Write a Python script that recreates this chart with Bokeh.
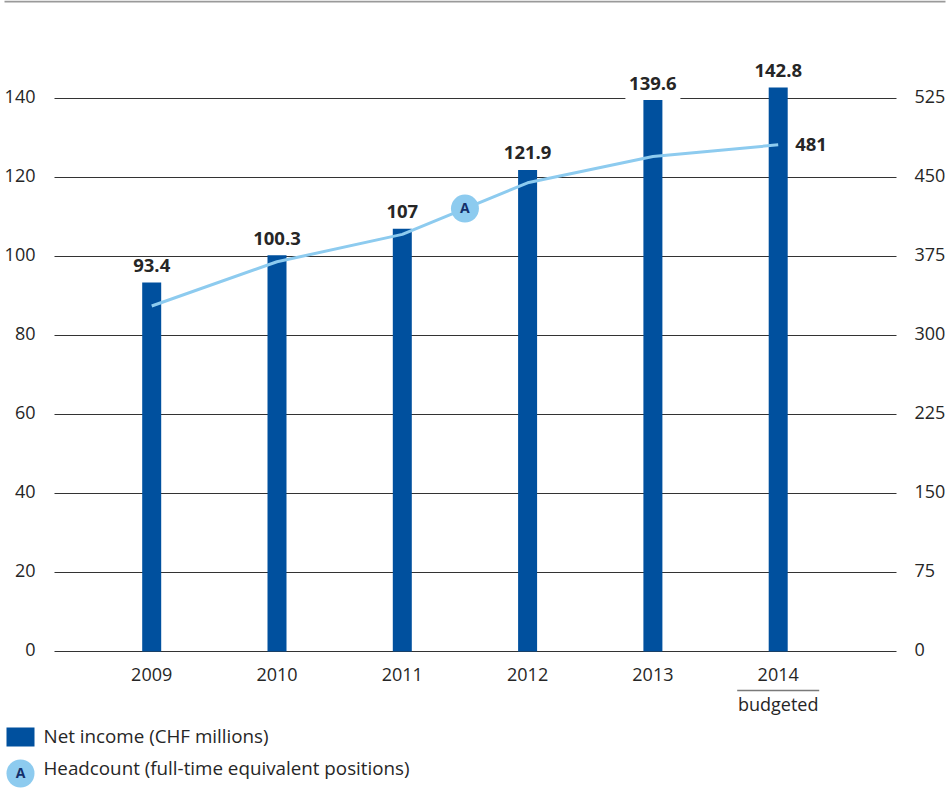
from bokeh.plotting import figure
from bokeh.models import Range1d
from bokeh.core.properties import value
from bokeh.embed import file_html
from bokeh.resources import INLINE

# ---- data ----
years = ["2009", "2010", "2011", "2012", "2013", "2014"]
net_income = [93.4, 100.3, 107, 121.9, 139.6, 142.8]
headcount = [328, 370, 396, 445, 470, 481]
left_ticks = [0, 20, 40, 60, 80, 100, 120, 140]
right_ticks = [0, 75, 150, 225, 300, 375, 450, 525]
series_names = ["Net income (CHF millions)", "Headcount (full-time equivalent positions)"]
budget_note = "budgeted"
marker_letter = "A"

# ---- style / layout constants ----
FONT = value("Open Sans")
W, H = 949, 788
BAR = "#00509e"
LINE = "#8dcbef"
TXT = "#262626"
NAVY = "#13306b"
GRID = "#333333"
RULE = "#9a9a9a"

CX0, CSTEP = 151.2, 125.3     # pixel of first category centre, pixels per category
Y0PX, PPU = 651.0, 3.95       # pixel row of value 0, pixels per left-axis unit
RATIO = right_ticks[-1] / left_ticks[-1]
FRAME_L, FRAME_R = 54, 896

def dx(px):
    return (px - CX0) / CSTEP

def dy(py):
    return (Y0PX - py) / PPU

idx = list(range(len(years)))

p = figure(width=W, height=H, x_range=Range1d(dx(0), dx(W)), y_range=Range1d(dy(H), dy(0)),
           toolbar_location=None, output_backend="svg", min_border=0,
           x_axis_location=None, y_axis_location=None, outline_line_color=None,
           background_fill_color="white", border_fill_color="white")
p.grid.visible = False
p.extra_y_ranges = {"hc": Range1d(dy(H) * RATIO, dy(0) * RATIO)}

# top rule
p.segment(x0=[dx(4)], y0=[dy(1)], x1=[dx(945)], y1=[dy(1)], line_color=RULE, line_width=2)

# horizontal grid lines at the left-axis ticks
n = len(left_ticks)
p.segment(x0=[dx(FRAME_L)] * n, y0=left_ticks, x1=[dx(FRAME_R)] * n, y1=left_ticks,
          line_color=GRID, line_width=1)

# tick labels (left, right, bottom)
p.text(x=[dx(35)] * n, y=left_ticks, text=[f"{t:g}" for t in left_ticks],
       text_align="right", text_baseline="middle", y_offset=-2,
       text_font=FONT, text_font_size="18px", text_color=TXT)
p.text(x=[dx(914)] * len(right_ticks), y=right_ticks, text=[f"{t:g}" for t in right_ticks],
       y_range_name="hc", text_align="left", text_baseline="middle", y_offset=-2,
       text_font=FONT, text_font_size="18px", text_color=TXT)
p.text(x=idx, y=[0] * len(idx), text=years, text_align="center", text_baseline="middle",
       y_offset=23, text_font=FONT, text_font_size="18px", text_color=TXT)

# "budgeted" note under 2014
half_sep = 41 / CSTEP
p.segment(x0=[idx[-1] - half_sep], y0=[dy(690)], x1=[idx[-1] + half_sep], y1=[dy(690)],
          line_color="#7a7a7a", line_width=1.5)
p.text(x=[idx[-1]], y=[0], text=[budget_note], text_align="center", text_baseline="middle",
       y_offset=52, text_font=FONT, text_font_size="18px", text_color=TXT)

# white patches behind the value labels (interrupt grid lines)
half = 27.5 / CSTEP
p.quad(left=[i - half for i in idx], right=[i + half for i in idx],
       bottom=[v + 0.25 for v in net_income], top=[v + 12 / PPU for v in net_income],
       fill_color="white", line_color=None)

# bars and headcount line
p.vbar(x=idx, top=net_income, width=19 / CSTEP, fill_color=BAR, line_color=None)
p.line(idx, headcount, y_range_name="hc", line_color=LINE, line_width=3)

# value labels
p.text(x=idx, y=net_income, text=[f"{v:g}" for v in net_income],
       text_align="center", text_baseline="middle", y_offset=-17,
       text_font=FONT, text_font_style="bold", text_font_size="18.5px", text_color=TXT)
p.text(x=[idx[-1]], y=[headcount[-1]], text=[f"{headcount[-1]:g}"], y_range_name="hc",
       text_align="left", text_baseline="middle", x_offset=17, y_offset=0,
       text_font=FONT, text_font_style="bold", text_font_size="18.5px", text_color=TXT)

# "A" marker on the line
mx = (idx[2] + idx[3]) / 2
my = (headcount[2] + headcount[3]) / 2
p.scatter(x=[mx], y=[my], y_range_name="hc", size=28, fill_color=LINE, line_color=None)
p.text(x=[mx], y=[my], text=[marker_letter], y_range_name="hc", text_align="center",
       text_baseline="middle", y_offset=-1, text_font=FONT, text_font_style="bold",
       text_font_size="14px", text_color=NAVY)

# legend
p.quad(left=[dx(6)], right=[dx(34)], top=[dy(727)], bottom=[dy(746)],
       fill_color=BAR, line_color=None)
p.text(x=[dx(43)], y=[dy(735)], text=[series_names[0]], text_align="left",
       text_baseline="middle", text_font=FONT, text_font_size="18.8px", text_color=TXT)
p.scatter(x=[dx(20)], y=[dy(773)], size=28, fill_color=LINE, line_color=None)
p.text(x=[dx(20)], y=[dy(773)], text=[marker_letter], text_align="center",
       text_baseline="middle", y_offset=-1, text_font=FONT, text_font_style="bold",
       text_font_size="14px", text_color=NAVY)
p.text(x=[dx(43)], y=[dy(767)], text=[series_names[1]], text_align="left",
       text_baseline="middle", text_font=FONT, text_font_size="18.8px", text_color=TXT)

open("out.html", "w").write(file_html(p, INLINE))
